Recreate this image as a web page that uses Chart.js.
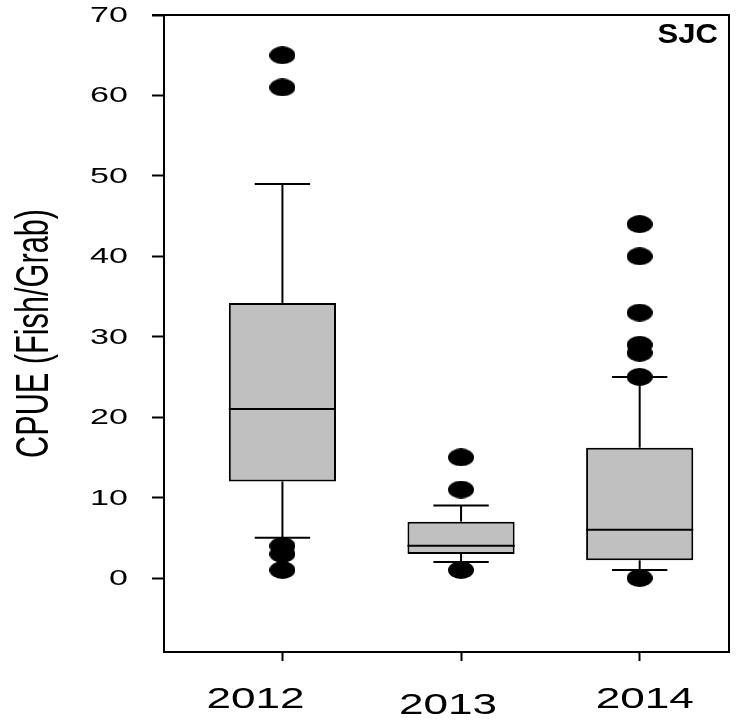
<!DOCTYPE html>
<html>
<head>
<meta charset="utf-8">
<script src="https://cdn.jsdelivr.net/npm/chart.js@4.4.1/dist/chart.umd.min.js"></script>
<style>
  html, body { margin: 0; padding: 0; background: #fff; }
  #wrap { width: 740px; height: 721px; }
</style>
</head>
<body>
<div id="wrap"><canvas id="box"></canvas></div>
<script>
// box plot values
const years = [2012, 2013, 2014];
const whiskerLow = [5, 2, 1];
const q1 = [12, 3, 2.2];
const median = [21, 4, 6];
const q3 = [34.2, 7, 16.2];
const whiskerHigh = [49, 9, 25];
const outliers = [
    [65, 61, 4, 3, 1],
    [15, 11, 1],
    [44, 40, 33, 29, 28, 25, 0]
];
const yTicks = [0, 10, 20, 30, 40, 50, 60, 70];
const yTitle = 'CPUE (Fish/Grab)';
const panelName = 'SJC';

// the source figure has its year labels a little off their ticks
const xLabelShift = [-27, -13, 5];
const xLabelDrop = [56, 62, 56];

// filled ellipse used as the outlier marker
function ellipseMarker(w, h) {
    const c = document.createElement('canvas');
    c.width = w;
    c.height = h;
    const g = c.getContext('2d');
    g.fillStyle = '#000';
    g.beginPath();
    g.ellipse(w / 2, h / 2, w / 2, h / 2, 0, 0, Math.PI * 2);
    g.fill();
    return c;
}
const marker = ellipseMarker(26, 18);

const outlierPoints = [];
years.forEach((yr, i) => {
    outliers[i].forEach(v => outlierPoints.push({ x: yr, y: v }));
});

// text in the original is stretched sideways, so draw it with a scale
function wideText(ctx, text, x, y, font, sx, align, baseline) {
    ctx.save();
    ctx.translate(x, y);
    ctx.scale(sx, 1);
    ctx.font = font;
    ctx.textAlign = align;
    ctx.textBaseline = baseline;
    ctx.fillText(text, 0, 0);
    ctx.restore();
}

// whiskers, caps, medians, labels and the top/right frame
const boxExtras = {
    id: 'boxExtras',
    afterDatasetsDraw(chart) {
        const ctx = chart.ctx;
        const xs = chart.scales.x;
        const ys = chart.scales.y;
        const a = chart.chartArea;
        const step = xs.getPixelForValue(2013) - xs.getPixelForValue(2012);
        const capHalf = step * 0.155;
        const boxHalf = step * 0.3;
        const line = (x1, y1, x2, y2) => {
            ctx.beginPath();
            ctx.moveTo(x1, y1);
            ctx.lineTo(x2, y2);
            ctx.stroke();
        };
        ctx.save();
        ctx.strokeStyle = '#000';
        ctx.fillStyle = '#000';
        ctx.lineWidth = 2;
        years.forEach((yr, i) => {
            const x = xs.getPixelForValue(yr);
            const hi = ys.getPixelForValue(whiskerHigh[i]);
            const lo = ys.getPixelForValue(whiskerLow[i]);
            const md = ys.getPixelForValue(median[i]);
            line(x, ys.getPixelForValue(q3[i]), x, hi);
            line(x, ys.getPixelForValue(q1[i]), x, lo);
            line(x - capHalf, hi, x + capHalf, hi);
            line(x - capHalf, lo, x + capHalf, lo);
            line(x - boxHalf, md, x + boxHalf, md);
        });

        // frame top and right
        ctx.beginPath();
        ctx.moveTo(a.left - 12, a.top);
        ctx.lineTo(a.right, a.top);
        ctx.lineTo(a.right, a.bottom);
        ctx.stroke();

        // y tick labels
        yTicks.forEach(v => {
            wideText(ctx, String(v), a.left - 36, ys.getPixelForValue(v) + 1,
                '22px "Liberation Sans", Arial, sans-serif', 1.55, 'right', 'middle');
        });

        // x tick labels
        years.forEach((yr, i) => {
            wideText(ctx, String(yr), xs.getPixelForValue(yr) + xLabelShift[i], a.bottom + xLabelDrop[i],
                '30px "Liberation Sans", Arial, sans-serif', 1.47, 'center', 'alphabetic');
        });

        // y title, condensed
        ctx.save();
        ctx.font = '47px "Liberation Sans", Arial, sans-serif';
        const k = (a.bottom - a.top - 388) / ctx.measureText(yTitle).width;
        ctx.translate(35, (a.top + a.bottom) / 2);
        ctx.rotate(-Math.PI / 2);
        ctx.scale(k, 1);
        ctx.textAlign = 'center';
        ctx.textBaseline = 'middle';
        ctx.fillText(yTitle, 0, 0);
        ctx.restore();

        // panel tag
        wideText(ctx, panelName, a.right - 11, a.top + 7,
            'bold 27px "Liberation Sans", Arial, sans-serif', 1.15, 'right', 'top');
        ctx.restore();
    }
};

new Chart(document.getElementById('box'), {
    data: {
        datasets: [
            {
                type: 'scatter',
                label: 'Outliers',
                data: outlierPoints,
                pointStyle: marker,
                order: 0
            },
            {
                type: 'bar',
                label: 'IQR',
                data: years.map((yr, i) => ({ x: yr, y: [q1[i], q3[i]] })),
                backgroundColor: '#c0c0c0',
                borderColor: '#000',
                borderWidth: 2,
                borderSkipped: false,
                barPercentage: 0.6,
                categoryPercentage: 1.0,
                order: 1
            }
        ]
    },
    options: {
        responsive: true,
        maintainAspectRatio: false,
        animation: false,
        layout: { padding: { top: 15, right: 11, left: 0, bottom: 0 } },
        plugins: {
            legend: { display: false },
            tooltip: { enabled: false }
        },
        scales: {
            x: {
                type: 'linear',
                offset: false,
                min: 2011.337,
                max: 2014.5,
                afterBuildTicks: axis => { axis.ticks = years.map(v => ({ value: v })); },
                afterFit: axis => { axis.height = 69; },
                grid: {
                    offset: false,
                    drawOnChartArea: false,
                    drawTicks: true,
                    tickLength: 9,
                    tickWidth: 2,
                    tickColor: '#000'
                },
                border: { display: true, color: '#000', width: 2 },
                ticks: { display: false }
            },
            y: {
                min: -9.2,
                max: 70,
                afterBuildTicks: axis => { axis.ticks = yTicks.map(v => ({ value: v })); },
                afterFit: axis => { axis.width = 164; },
                grid: {
                    drawOnChartArea: false,
                    drawTicks: true,
                    tickLength: 12,
                    tickWidth: 2,
                    tickColor: '#000'
                },
                border: { display: true, color: '#000', width: 2 },
                ticks: { display: false }
            }
        }
    },
    plugins: [boxExtras]
});
</script>
</body>
</html>
